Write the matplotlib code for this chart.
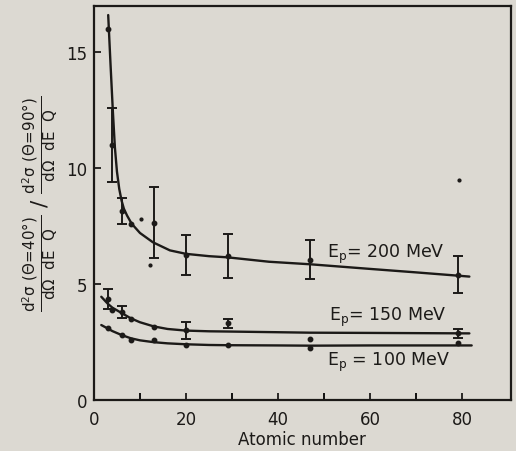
import numpy as np
import matplotlib
matplotlib.use('Agg')
from matplotlib import pyplot as plt

plt.rcParams['font.family'] = 'DejaVu Sans'
plt.rcParams['mathtext.fontset'] = 'dejavusans'
plt.rcParams['mathtext.default'] = 'regular'

bg = '#dcd9d2'
ink = '#1c1a18'

# measured points (Z, ratio, error; 0 = no bar drawn)
z200 = [3, 4, 6, 8, 13, 20, 29, 47, 79]
r200 = [16.0, 11.0, 8.15, 7.6, 7.65, 6.25, 6.2, 6.05, 5.4]
e200 = [0, 1.6, 0.58, 0, 1.55, 0.85, 0.95, 0.85, 0.8]
z200_extra = [10.3, 12.1, 79.2]
r200_extra = [7.8, 5.8, 9.5]

z150 = [3, 4, 6, 8, 13, 20, 29, 47, 79]
r150 = [4.35, 3.88, 3.8, 3.48, 3.16, 3.0, 3.3, 2.63, 2.87]
e150 = [0.42, 0, 0.25, 0, 0, 0.36, 0.2, 0, 0.2]

z100 = [3, 6, 8, 13, 20, 29, 47, 79]
r100 = [3.09, 2.8, 2.6, 2.58, 2.37, 2.37, 2.23, 2.44]

# hand drawn fit curves
z200c = [3.1, 3.6, 4.1, 4.55, 5.0, 5.5, 6.0, 6.5, 7.2, 8.2, 10, 12.8, 16.5, 20, 25, 29, 38, 47, 60, 70, 81.5]
y200c = [16.6, 14.5, 12.5, 10.9, 9.85, 9.1, 8.6, 8.25, 7.95, 7.6, 7.2, 6.8, 6.45, 6.3, 6.2, 6.15, 5.96, 5.85, 5.65, 5.5, 5.32]
z150c = [1.6, 3, 4, 6, 8, 10, 13, 16, 20, 25, 29, 40, 47, 60, 81.5]
y150c = [4.45, 4.15, 3.98, 3.75, 3.52, 3.35, 3.17, 3.06, 2.99, 2.96, 2.95, 2.92, 2.9, 2.89, 2.87]
z100c = [1.6, 3, 4, 6, 8, 10, 13, 16, 20, 25, 29, 40, 47, 60, 82]
y100c = [3.23, 3.08, 2.97, 2.8, 2.66, 2.57, 2.49, 2.44, 2.4, 2.37, 2.36, 2.35, 2.34, 2.35, 2.35]

labels = ['E$_p$= 200 MeV', 'E$_p$= 150 MeV', 'E$_p$ = 100 MeV']
label_pos = [(50.6, 6.34), (51, 3.59), (50.6, 1.65)]

fig = plt.figure(figsize=(5.16, 4.52), dpi=100, facecolor=bg)
ax = fig.add_axes([0.182, 0.113, 0.808, 0.872], facecolor=bg)

for zc, yc in [(z200c, y200c), (z150c, y150c), (z100c, y100c)]:
    ax.plot(zc, yc, color=ink, lw=1.7, solid_capstyle='round')

for z, r, e in [(z200, r200, e200), (z150, r150, e150)]:
    ax.plot(z, r, 'o', color=ink, ms=3.2)
    for zi, ri, ei in zip(z, r, e):
        if ei > 0:
            ax.errorbar(zi, ri, yerr=ei, fmt='none', ecolor=ink, elinewidth=1.4,
                        capsize=3.5, capthick=1.4)
ax.plot(z200_extra, r200_extra, 'o', color=ink, ms=2)
ax.plot(z100, r100, 'o', color=ink, ms=3.2)

for txt, (x, y) in zip(labels, label_pos):
    ax.text(x, y, txt, fontsize=12.5, color=ink, va='center', ha='left')

ax.set_xlim(0, 90.5)
ax.set_ylim(0, 17)
ax.set_xticks([0, 20, 40, 60, 80])
ax.set_xticks([10, 30, 50, 70], minor=True)
ax.set_yticks([0, 5, 10, 15])
ax.tick_params(direction='in', length=5, width=1.3, labelsize=12, colors=ink, pad=7)
ax.tick_params(axis='y', pad=5)
ax.tick_params(which='minor', direction='in', length=5, width=1.3)
for s in ax.spines.values():
    s.set_linewidth(1.6)
    s.set_color(ink)

ax.set_xlabel('Atomic number', fontsize=12, color=ink, labelpad=2)
ax.set_ylabel(r'$\frac{d^2\sigma\ (\Theta\!=\!40°)}{d\Omega\ \ dE\ \ Q}\ /\ '
              r'\frac{d^2\sigma\ (\Theta\!=\!90°)}{d\Omega\ \ dE\ \ Q}$',
              fontsize=15.5, color=ink, labelpad=4)

plt.savefig('out.png', dpi=100, facecolor=bg)
